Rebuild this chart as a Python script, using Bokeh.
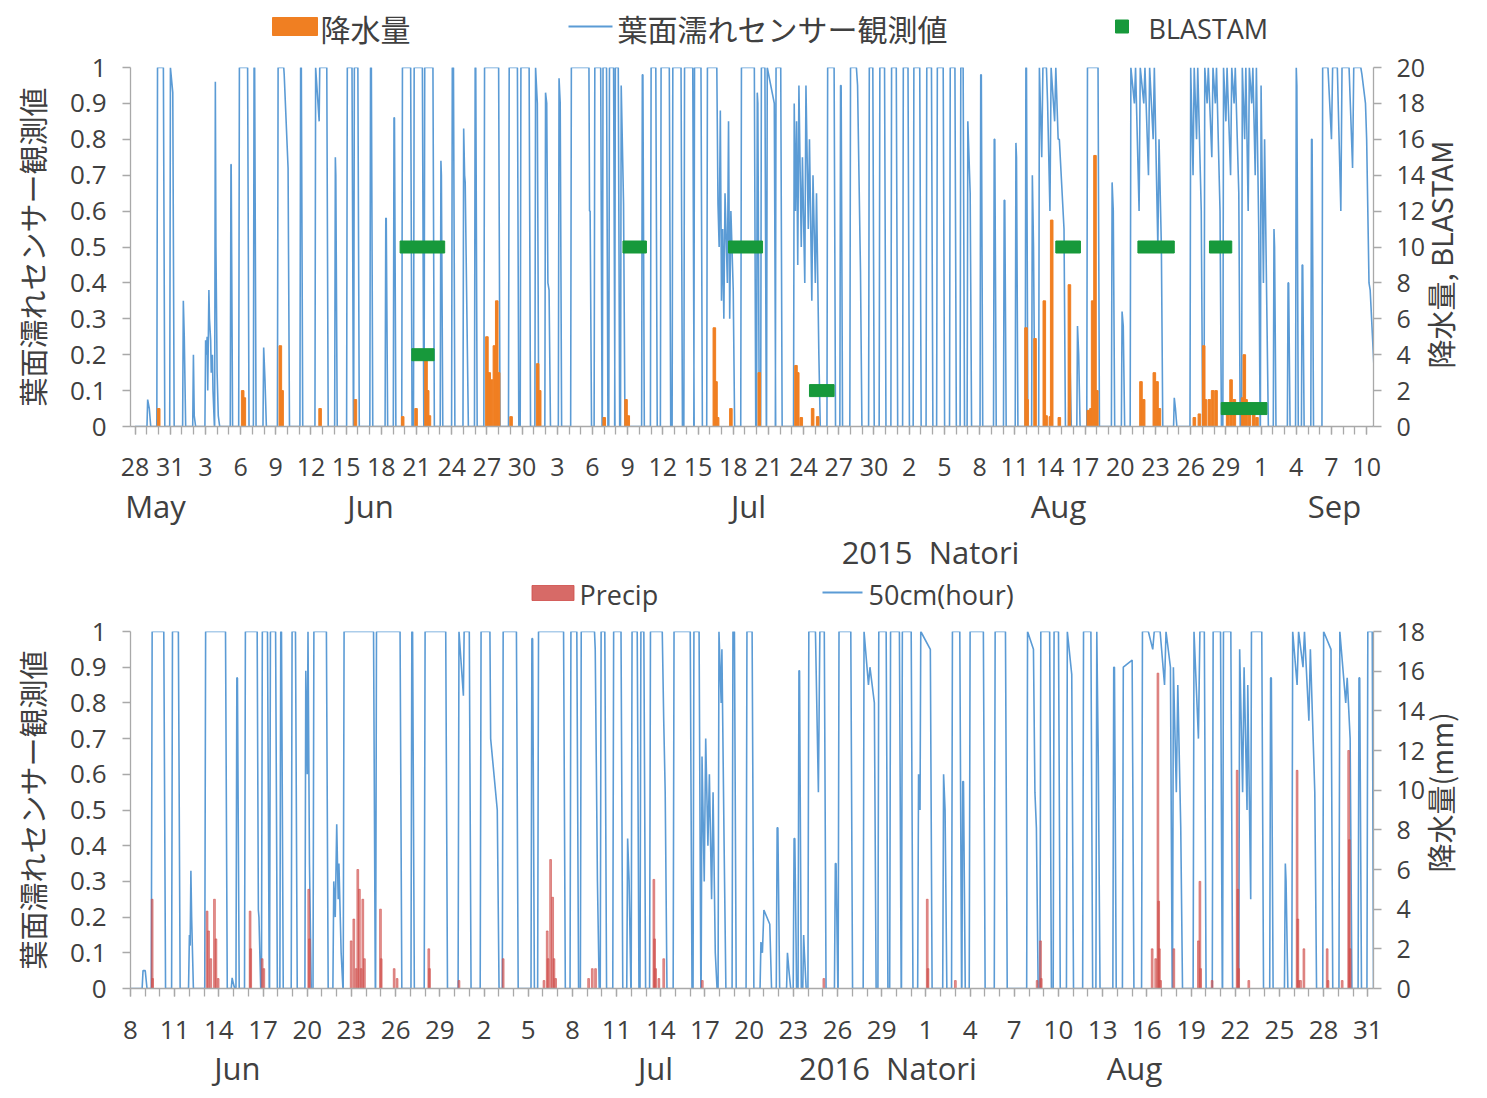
import math
from bokeh.plotting import figure
from bokeh.models import Range1d, LinearAxis, FixedTicker
from bokeh.layouts import column
from bokeh.core.properties import value
from bokeh.embed import file_html
from bokeh.resources import INLINE

# ---------------------------------------------------------------------------
# 2015 Natori — time in days from 28 May 2015 00:00
# leaf-wetness spells: (start, end, value at start, value at end)
wet_2015 = [
    (1.08, 1.22, 0.075, 0.05), (1.92, 2.42, 1, 1), (3.02, 3.22, 1, 0.93),
    (4.12, 4.2, 0.35, 0.25), (4.98, 5.05, 0.2, 0.03),
    (6.02, 6.08, 0.24, 0.2), (6.15, 6.2, 0.25, 0.1), (6.3, 6.35, 0.38, 0.3),
    (6.45, 6.5, 0.24, 0.15), (6.6, 6.65, 0.2, 0.1), (6.85, 6.9, 0.96, 0.5),
    (7.0, 7.1, 0.15, 0.03), (8.18, 8.2, 0.73, 0.73), (8.9, 9.6, 1, 1),
    (10.15, 10.2, 1, 1), (10.97, 11.08, 0.22, 0.13), (12.2, 12.68, 1, 1),
    (12.72, 13.05, 0.98, 0.72), (14.12, 14.18, 1, 1), (15.4, 15.7, 1, 0.85),
    (15.75, 16.35, 1, 1), (17.08, 17.12, 0.75, 0.7), (18.1, 18.5, 1, 1),
    (18.7, 19.0, 1, 1), (20.08, 20.15, 1, 1), (21.38, 21.42, 0.58, 0.58),
    (22.08, 22.12, 0.86, 0.86), (22.8, 23.5, 1, 1), (23.8, 24.5, 1, 1),
    (24.7, 25.4, 1, 1), (26.08, 26.12, 0.74, 0.7), (27.05, 27.15, 1, 1),
    (28.02, 28.1, 0.83, 0.7), (28.15, 28.3, 0.68, 0.3), (29.0, 29.05, 1, 1),
    (29.8, 31.0, 1, 1), (31.9, 32.6, 1, 1), (32.9, 33.6, 1, 1),
    (34.15, 34.3, 1, 0.9), (35.0, 35.1, 0.93, 0.9), (35.2, 35.3, 0.4, 0.38),
    (36.15, 36.25, 0.97, 0.9), (37.2, 38.7, 1, 1), (38.75, 38.8, 0.6, 0.6),
    (39.2, 39.7, 1, 1), (39.9, 40.2, 1, 1), (40.45, 40.8, 1, 1),
    (40.95, 41.2, 1, 1), (41.45, 41.65, 0.95, 0.62), (43.25, 43.3, 0.98, 0.98),
    (44.0, 44.4, 1, 1), (44.85, 45.55, 1, 1), (45.85, 46.55, 1, 1),
    (46.85, 47.55, 1, 1), (47.7, 48.25, 1, 1), (48.8, 49.6, 1, 1),
    (49.7, 49.8, 0.62, 0.5), (49.9, 50.0, 0.88, 0.35), (50.1, 50.2, 0.55, 0.3),
    (50.3, 50.5, 0.65, 0.4), (50.6, 50.7, 0.85, 0.3), (50.8, 51.0, 0.6, 0.38),
    (51.7, 52.8, 1, 1), (53.05, 53.1, 0.93, 0.9), (53.4, 53.7, 1, 1),
    (53.9, 54.5, 1, 0.9), (54.65, 55.05, 1, 1), (56.2, 56.3, 0.9, 0.6),
    (56.4, 56.5, 0.85, 0.45), (56.6, 56.8, 0.95, 0.5), (56.9, 57.1, 0.75, 0.4),
    (57.2, 57.4, 0.95, 0.55), (57.5, 57.7, 0.8, 0.35), (57.8, 58.0, 0.7, 0.4),
    (58.1, 58.3, 0.65, 0.2), (59.05, 59.6, 1, 1), (60.15, 60.2, 0.95, 0.95),
    (61.0, 61.5, 1, 1), (61.6, 61.85, 0.95, 0.43), (62.6, 62.9, 1, 1),
    (63.5, 63.9, 1, 1), (64.5, 64.9, 1, 1), (65.5, 65.9, 1, 1),
    (66.4, 66.9, 1, 1), (67.5, 67.9, 1, 1), (68.4, 68.9, 1, 1),
    (69.5, 69.9, 1, 1), (70.4, 70.6, 1, 1), (71.0, 71.2, 0.85, 0.65),
    (72.1, 72.15, 0.98, 0.98), (73.25, 73.3, 0.8, 0.8), (74.1, 74.15, 0.63, 0.63),
    (75.1, 75.15, 0.79, 0.75), (75.95, 76.0, 1, 1), (76.5, 76.6, 0.7, 0.5),
    (77.1, 77.3, 1, 0.75), (77.4, 77.7, 1, 1), (77.8, 78.0, 0.9, 0.6),
    (78.1, 78.4, 1, 0.85), (78.5, 78.7, 1, 0.8), (78.8, 79.2, 0.8, 0.55),
    (79.65, 79.7, 0.22, 0.2), (80.35, 80.45, 0.28, 0.2), (81.2, 82.1, 1, 1),
    (83.3, 83.4, 0.68, 0.6), (84.15, 84.25, 0.32, 0.28), (84.9, 85.2, 1, 0.9),
    (85.3, 85.6, 1, 0.6), (85.7, 86.0, 1, 0.9), (86.1, 86.4, 1, 0.7),
    (86.5, 86.8, 1, 0.8), (86.9, 87.2, 1, 0.5), (87.3, 87.5, 0.8, 0.5),
    (88.6, 88.7, 0.08, 0.05), (90.0, 90.2, 1, 0.7), (90.3, 90.5, 1, 0.8),
    (90.6, 90.9, 1, 0.6), (91.2, 91.4, 1, 0.9), (91.5, 91.8, 1, 0.75),
    (91.9, 92.1, 1, 0.9), (92.2, 92.5, 1, 0.6), (92.8, 93.0, 1, 0.85),
    (93.1, 93.4, 1, 0.7), (93.5, 93.7, 1, 0.9), (93.8, 94.1, 1, 0.65),
    (94.4, 94.6, 1, 0.8), (94.7, 94.9, 1, 0.6), (95.0, 95.2, 1, 0.9),
    (95.3, 95.5, 1, 0.7), (95.6, 95.8, 1, 0.55), (96.0, 96.2, 0.95, 0.4),
    (96.3, 96.5, 0.8, 0.3), (97.1, 97.15, 0.55, 0.5), (98.3, 98.35, 0.4, 0.4),
    (99.0, 99.05, 1, 0.95), (99.5, 99.55, 0.45, 0.45), (100.3, 100.35, 0.8, 0.8),
    (101.25, 101.6, 1, 1), (101.7, 102.0, 1, 0.8), (102.1, 102.4, 1, 1),
    (102.5, 102.8, 1, 0.6), (102.9, 103.4, 1, 1), (103.5, 103.8, 1, 0.72),
    (103.9, 104.5, 1, 1), (104.6, 104.9, 0.98, 0.9), (105.0, 105.2, 0.8, 0.4),
    (105.3, 105.8, 0.38, 0.05),
]

# hourly precipitation (mm): time, amount
rain_2015 = [
    (2.02, 1.0), (9.18, 2.0), (9.32, 1.6), (12.39, 4.5), (12.54, 2.0),
    (15.78, 1.0), (18.79, 1.5), (22.82, 0.55), (23.96, 1.0), (24.81, 3.8),
    (24.95, 2.0), (25.1, 0.6), (30.0, 5.0), (30.2, 3.0), (30.4, 2.6),
    (30.64, 4.5), (30.84, 7.0), (31.0, 3.0), (32.06, 0.55), (34.33, 3.5),
    (34.5, 2.0), (40.0, 0.5), (41.86, 1.5), (42.05, 0.6), (49.39, 5.5),
    (49.53, 2.5), (49.67, 0.5), (50.8, 1.0), (53.22, 3.0), (56.35, 3.4),
    (56.5, 3.0), (56.8, 0.5), (57.77, 1.0), (58.2, 0.55), (75.96, 5.5),
    (76.05, 1.5), (76.73, 4.9), (77.52, 7.0), (77.67, 0.6), (78.04, 0.55),
    (78.15, 11.5), (78.8, 0.5), (79.66, 7.9), (81.27, 0.9), (81.5, 1.0),
    (81.64, 7.0), (81.84, 15.1), (82.0, 2.0), (85.76, 2.5), (85.99, 1.5),
    (86.9, 3.0), (87.13, 2.5), (87.33, 1.0), (90.31, 0.5), (90.74, 0.7),
    (91.11, 4.5), (91.25, 1.5), (91.59, 1.5), (91.87, 2.0), (92.16, 2.0),
    (93.15, 0.8), (93.44, 2.6), (93.72, 1.5), (94.43, 1.6), (94.57, 4.0),
    (94.72, 1.5), (95.0, 1.1), (95.37, 0.8), (95.65, 0.5),
]

# BLASTAM infection periods: start, end, plotted level
blast_start = [22.6, 23.6, 41.6, 50.6, 57.5, 78.5, 85.5, 91.6, 92.6]
blast_end = [26.4, 25.5, 43.6, 53.5, 59.6, 80.6, 88.6, 93.5, 96.5]
blast_level = [10, 4, 10, 10, 2, 10, 10, 10, 1]

days_2015 = ["28", "31", "3", "6", "9", "12", "15", "18", "21", "24", "27", "30",
             "3", "6", "9", "12", "15", "18", "21", "24", "27", "30",
             "2", "5", "8", "11", "14", "17", "20", "23", "26", "29",
             "1", "4", "7", "10"]
months_2015 = ["May", "Jun", "Jul", "Aug", "Sep"]

# ---------------------------------------------------------------------------
# 2016 Natori — time in days from 8 June 2016 00:00
wet_2016 = [
    (0.85, 1.0, 0.05, 0.05), (1.47, 2.26, 1, 1), (2.85, 3.25, 1, 1),
    (4.0, 4.05, 0.15, 0.12), (4.1, 4.15, 0.33, 0.2), (5.1, 6.45, 1, 1),
    (6.9, 6.95, 0.03, 0.02), (7.22, 7.26, 0.87, 0.87), (7.8, 8.6, 1, 1),
    (8.68, 8.72, 0.22, 0.2), (8.95, 9.3, 1, 1), (9.5, 9.85, 1, 1),
    (10.2, 10.25, 1, 1), (10.97, 11.2, 1, 1), (11.9, 12.0, 0.89, 0.6),
    (12.05, 12.15, 1, 0.35), (12.45, 12.9, 1, 1), (13.0, 13.3, 1, 1),
    (13.8, 13.9, 0.3, 0.2), (14.0, 14.1, 0.46, 0.25), (14.15, 14.3, 0.35, 0.1),
    (14.5, 16.5, 1, 1), (16.7, 17.9, 1, 1), (18.0, 18.3, 1, 1),
    (19.1, 19.15, 1, 1), (20.0, 21.4, 1, 1), (22.3, 22.6, 1, 0.82),
    (22.65, 23.0, 1, 1), (23.8, 24.4, 1, 1), (24.45, 24.9, 0.7, 0.5),
    (25.3, 26.2, 1, 1), (27.25, 27.3, 0.98, 0.98), (27.7, 29.4, 1, 1),
    (29.9, 30.3, 1, 1), (30.6, 31.5, 1, 1), (31.55, 31.7, 0.95, 0.3),
    (31.95, 32.2, 1, 1), (32.8, 33.3, 1, 1), (33.75, 33.85, 0.42, 0.3),
    (34.05, 34.4, 1, 1), (34.65, 34.85, 1, 1), (35.3, 36.1, 1, 1),
    (36.2, 36.3, 0.75, 0.55), (36.9, 38.0, 1, 1), (38.25, 38.6, 1, 1),
    (38.8, 38.95, 0.65, 0.3), (39.05, 39.2, 0.7, 0.4), (39.3, 39.45, 0.6, 0.25),
    (39.55, 39.7, 0.55, 0.1), (39.95, 40.1, 1, 0.8), (40.15, 40.3, 0.95, 0.4),
    (40.9, 41.0, 1, 1), (41.85, 42.2, 1, 1), (42.8, 42.9, 0.13, 0.1),
    (43.0, 43.4, 0.22, 0.18), (43.9, 43.95, 0.45, 0.45), (44.6, 44.7, 0.1, 0.05),
    (45.05, 45.1, 0.42, 0.42), (45.38, 45.42, 0.89, 0.89), (45.7, 45.75, 0.15, 0.1),
    (46.05, 46.4, 1, 1), (46.5, 46.7, 1, 0.55), (46.8, 47.1, 1, 1),
    (47.85, 47.9, 0.35, 0.35), (48.1, 48.9, 1, 1), (49.8, 50.1, 1, 0.85),
    (50.2, 50.5, 0.9, 0.8), (50.8, 51.3, 1, 1), (51.6, 52.2, 1, 1),
    (52.4, 53.0, 1, 1), (53.5, 53.6, 0.6, 0.5), (53.65, 54.3, 1, 0.95),
    (55.2, 55.3, 0.6, 0.5), (55.8, 56.3, 1, 1), (56.5, 56.55, 0.58, 0.58),
    (57.0, 57.9, 1, 1), (58.7, 59.4, 1, 1), (60.9, 61.3, 1, 0.95),
    (61.4, 61.5, 0.55, 0.45), (61.8, 62.4, 1, 1), (62.7, 63.0, 1, 1),
    (63.6, 63.9, 1, 0.88), (64.7, 65.2, 1, 1), (65.6, 65.7, 1, 0.65),
    (66.75, 66.8, 0.9, 0.9), (67.4, 68.0, 0.9, 0.92), (68.7, 69.0, 1, 1),
    (69.1, 69.4, 1, 0.95), (69.5, 69.8, 1, 1), (69.9, 70.2, 1, 0.85),
    (70.3, 70.6, 1, 0.9), (70.8, 71.0, 0.9, 0.55), (71.1, 71.3, 0.85, 0.45),
    (72.2, 72.5, 1, 0.7), (72.6, 72.9, 1, 1), (73.5, 74.0, 1, 1),
    (74.2, 74.7, 1, 1), (75.3, 75.5, 0.95, 0.55), (75.6, 75.8, 0.9, 0.5),
    (75.85, 76.05, 0.85, 0.25), (76.1, 76.8, 1, 1), (77.4, 77.45, 0.87, 0.87),
    (78.4, 78.45, 0.35, 0.3), (78.9, 79.2, 1, 0.85), (79.3, 79.6, 1, 0.9),
    (79.7, 80.0, 1, 0.75), (80.1, 80.4, 0.95, 0.55), (81.0, 81.5, 1, 0.95),
    (82.1, 82.5, 1, 0.8), (82.6, 82.8, 0.87, 0.7), (83.4, 83.45, 0.87, 0.87),
    (84.0, 84.3, 1, 1),
]

rain_2016 = [
    (1.47, 4.5), (1.5, 0.5), (5.2, 3.9), (5.3, 2.9), (5.45, 1.5), (5.7, 4.5),
    (5.8, 2.5), (5.95, 0.5), (8.12, 3.9), (8.16, 2.0), (8.94, 1.5), (9.05, 1.0),
    (12.1, 5.0), (12.15, 2.5), (14.98, 2.4), (15.16, 3.5), (15.32, 1.0),
    (15.43, 6.0), (15.54, 5.0), (15.66, 1.0), (15.77, 4.5), (15.88, 1.5),
    (16.97, 4.0), (17.02, 1.5), (17.9, 1.0), (18.1, 0.5), (20.25, 2.0),
    (20.3, 1.0), (22.3, 0.4), (25.3, 1.5), (28.07, 0.4), (28.29, 2.9),
    (28.35, 1.5), (28.52, 6.5), (28.66, 4.6), (28.75, 1.5), (28.86, 0.5),
    (31.1, 0.5), (31.35, 1.0), (31.57, 1.0), (35.53, 5.5), (35.58, 2.5),
    (35.65, 1.0), (35.87, 0.5), (36.2, 1.5), (38.82, 0.4), (47.07, 0.5),
    (54.09, 4.5), (54.14, 1.0), (56.0, 0.4), (61.55, 0.4), (61.78, 2.4),
    (61.83, 0.5), (69.36, 2.0), (69.6, 1.5), (69.75, 15.9), (69.8, 4.4),
    (69.85, 2.0), (69.93, 0.4), (70.83, 2.0), (72.5, 2.4), (72.6, 5.4),
    (72.65, 1.0), (73.43, 0.4), (75.13, 11.0), (75.18, 5.0), (75.23, 1.0),
    (75.92, 0.4), (79.2, 11.0), (79.25, 3.5), (79.3, 0.4), (79.43, 0.4),
    (79.66, 2.0), (81.24, 2.0), (81.3, 0.4), (82.26, 0.4), (82.7, 12.0),
    (82.75, 7.5), (82.8, 2.0),
]

days_2016 = ["8", "11", "14", "17", "20", "23", "26", "29",
             "2", "5", "8", "11", "14", "17", "20", "23", "26", "29",
             "1", "4", "7", "10", "13", "16", "19", "22", "25", "28", "31"]
months_2016 = ["Jun", "Jul", "Aug"]

wet_ticks = [0, 0.1, 0.2, 0.3, 0.4, 0.5, 0.6, 0.7, 0.8, 0.9, 1]

# ---------------------------------------------------------------------------
W = 1487
LEFT, RIGHT = 130, 1373          # shared plot-frame edges (page pixels)
JP = "Noto Sans CJK JP"
LAT = "Open Sans"
TXT = "#404040"
GRAY = "#A9A9A9"
BLUE = "#5B9BD5"
ORANGE = "#F07F22"
GREEN = "#17993B"
RED = "#D0504C"
PAD = "\u3000"


def wetness_trace(events, x_end, rise=0.06, fall=0.12, join=0.12):
    """Polyline of the sensor value: 0 between spells, spells joined when adjacent."""
    xs, ys = [0.0], [0.0]
    last = None
    for t0, t1, a, b in events:
        if last is None or t0 - last > join:
            if last is not None:
                xs.append(last + fall)
                ys.append(0.0)
            xs.append(t0 - rise)
            ys.append(0.0)
        xs += [t0, t1]
        ys += [a, b]
        last = t1
    xs += [min(last + fall, x_end), x_end]
    ys += [0.0, 0.0]
    return xs, ys


def style_axis(ax, size):
    ax.axis_line_color = GRAY
    ax.axis_line_width = 1.3
    ax.major_tick_line_color = GRAY
    ax.minor_tick_line_color = GRAY
    ax.major_tick_line_width = 1.3
    ax.minor_tick_line_width = 1.3
    ax.major_tick_out = 8
    ax.major_tick_in = 0
    ax.minor_tick_out = 8
    ax.minor_tick_in = 0
    ax.major_label_text_font = LAT
    ax.major_label_text_font_size = size
    ax.major_label_text_color = TXT
    ax.axis_label_text_font = JP
    ax.axis_label_text_font_size = "29px"
    ax.axis_label_text_font_style = "normal"
    ax.axis_label_text_color = TXT


def text_axis(p, positions, labels, standoff):
    """An extra row of labels below the date axis (month names, site title)."""
    ax = LinearAxis(ticker=FixedTicker(ticks=positions),
                    major_label_overrides={t: s for t, s in zip(positions, labels)})
    ax.axis_line_color = None
    ax.major_tick_line_color = None
    ax.minor_tick_line_color = None
    ax.major_tick_out = 0
    ax.major_tick_in = 0
    ax.major_label_standoff = standoff
    ax.major_label_text_font = LAT
    ax.major_label_text_font_size = "31px"
    ax.major_label_text_color = TXT
    p.add_layout(ax, "below")
    return ax


def panel(height, top, frame_h, x_start, x_end, p_end, day_labels, x_standoff, day_size,
          left_title, right_title):
    p = figure(width=W, height=height, x_range=Range1d(x_start, x_end), y_range=Range1d(0, 1),
               output_backend="svg", toolbar_location=None,
               min_border_left=LEFT, min_border_right=W - RIGHT,
               min_border_top=top, min_border_bottom=height - top - frame_h,
               outline_line_color=None)
    p.grid.visible = False
    p.extra_y_ranges = {"p": Range1d(0, p_end)}

    xa = p.xaxis[0]
    xa.ticker = FixedTicker(ticks=[3 * i for i in range(len(day_labels))],
                            minor_ticks=list(range(0, int(x_end) + 1)))
    xa.major_label_overrides = {3 * i: s for i, s in enumerate(day_labels)}
    style_axis(xa, day_size)
    xa.major_label_standoff = x_standoff

    ya = p.yaxis[0]
    ya.ticker = FixedTicker(ticks=wet_ticks)
    ya.major_label_overrides = {t: str(t) for t in wet_ticks}
    style_axis(ya, "26px")
    ya.major_label_standoff = 16
    ya.axis_label = left_title
    ya.axis_label_standoff = 14

    ra = LinearAxis(y_range_name="p", ticker=FixedTicker(ticks=list(range(0, p_end + 1, 2))))
    style_axis(ra, "25px")
    ra.major_label_standoff = 15
    ra.axis_label = right_title
    ra.axis_label_standoff = 12
    props = ra.properties()
    if "axis_label_orientation" in props:
        ra.axis_label_orientation = math.pi / 2
    if "axis_label_align" in props:
        ra.axis_label_align = "start"
    p.add_layout(ra, "right")
    return p


def strip(height):
    """Legend band; x in page pixels across the shared frame."""
    s = figure(width=W, height=height, x_range=Range1d(LEFT, RIGHT), y_range=Range1d(height, 0),
               output_backend="svg", toolbar_location=None,
               x_axis_type=None, y_axis_type=None,
               min_border_left=LEFT, min_border_right=W - RIGHT,
               min_border_top=0, min_border_bottom=0, outline_line_color=None)
    s.grid.visible = False
    return s


# ---------------- legend row, 2015 ----------------
leg1 = strip(50)
leg1.rect(x=[294.5], y=[26], width=[45], height=[18], color=ORANGE)
leg1.line(x=[568, 612], y=[26, 26], color=BLUE, line_width=2)
leg1.rect(x=[1121.5], y=[26], width=[13], height=[13], color=GREEN)
leg1.text(x=[320, 617], y=[27, 27], text=["降水量", "葉面濡れセンサー観測値"],
          text_font=value(JP), text_font_size="30px", text_color=TXT,
          text_align="left", text_baseline="middle")
leg1.text(x=[1148], y=[28], text=["BLASTAM"], text_font=value(LAT),
          text_font_size="27px", text_color=TXT, text_align="left", text_baseline="middle")

# ---------------- 2015 panel ----------------
x0_15 = (LEFT - 134.5) / 11.73
x1_15 = (RIGHT - 134.5) / 11.73
p1 = panel(525, 17, 360, x0_15, x1_15, 20, days_2015, 23, "25px",
           "葉面濡れセンサー観測値", PAD * 2 + "降水量, BLASTAM")
wx, wy = wetness_trace(wet_2015, x1_15)
p1.line(wx, wy, color=BLUE, line_width=1.6)
p1.vbar(x=[t for t, _ in rain_2015], top=[m for _, m in rain_2015], width=0.22,
        y_range_name="p", color=ORANGE)
p1.rect(x=[(s + e) / 2 for s, e in zip(blast_start, blast_end)], y=blast_level,
        width=[e - s for s, e in zip(blast_start, blast_end)], height=12,
        height_units="screen", y_range_name="p", color=GREEN)
text_axis(p1, [1.75, 20.08, 52.3, 78.73, 102.26], months_2015, 6)
text_axis(p1, [67.82], ["2015\u00a0 Natori"], 1)

# ---------------- legend row, 2016 ----------------
leg2 = strip(37)
leg2.rect(x=[552.5], y=[17.5], width=[42], height=[15], color=RED, alpha=0.85)
leg2.line(x=[822, 862], y=[17, 17], color=BLUE, line_width=2)
leg2.text(x=[579, 868], y=[19, 19], text=["Precip", "50cm(hour)"], text_font=value(LAT),
          text_font_size="27px", text_color=TXT, text_align="left", text_baseline="middle")

# ---------------- 2016 panel ----------------
x1_16 = (RIGHT - 130) / 14.73
p2 = panel(486, 19, 357, 0, x1_16, 18, days_2016, 24, "26px",
           "葉面濡れセンサー観測値", PAD * 4 + "降水量(mm)")
wx, wy = wetness_trace(wet_2016, x1_16)
p2.line(wx, wy, color=BLUE, line_width=1.6)
p2.vbar(x=[t for t, _ in rain_2016], top=[m for _, m in rain_2016], width=0.12,
        y_range_name="p", color=RED, alpha=0.6)
text_axis(p2, [7.26, 35.64, 51.42, 68.16],
          [months_2016[0], months_2016[1], "2016\u00a0 Natori", months_2016[2]], 5)

layout = column(leg1, p1, leg2, p2, spacing=0)
open("out.html", "w").write(file_html(layout, INLINE))
